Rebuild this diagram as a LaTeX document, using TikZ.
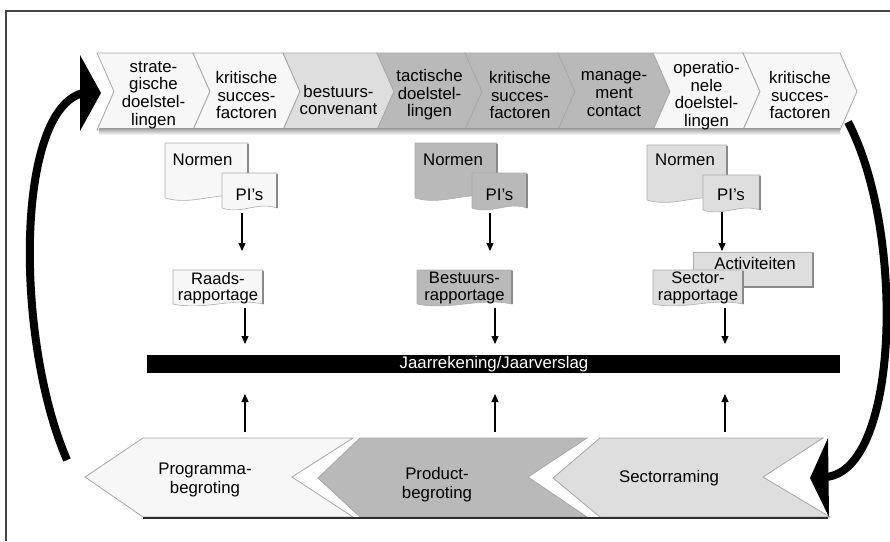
\documentclass[tikz,border=0pt]{standalone}
\usepackage{fontspec}
\setmainfont{Liberation Sans}
\usetikzlibrary{arrows.meta}
\definecolor{cwhite}{HTML}{F7F7F7}
\definecolor{clight}{HTML}{DEDEDE}
\definecolor{cmid}{HTML}{B9B9B9}
\definecolor{cedge}{HTML}{8A8A8A}
\newcommand\topchev[3]{\filldraw[chev, fill=#3] (#1,53) -- (#2,53) -- ({#2+17},91.5) -- (#2,130) -- (#1,130) -- ({#1+17},91.5) -- cycle;}
\newcommand\docpath[6]{%
  \filldraw[docbox, fill=#6] (#1,#2) -- (#3,#2) -- (#3,#4) .. controls ({#3-0.35*(#3-#1)},{#4-1.7*#5}) and ({#1+0.35*(#3-#1)},{#4+1.7*#5}) .. (#1,#4) -- cycle;
  \draw[cedge, line width=1.6pt] ({#3},{#2+1}) -- (#3,#4);}
\begin{document}
\begin{tikzpicture}[x=1pt,y=-1pt,
  lbl/.style={font=\fontsize{16.8}{17.6}\selectfont, align=center, inner sep=0pt},
  rlbl/.style={font=\fontsize{16.6}{16.4}\selectfont, align=center, inner sep=0pt},
  chev/.style={draw=cedge!75, line width=0.8pt},
  docbox/.style={draw=cedge!70, line width=0.6pt},
  arr/.style={-{Triangle[length=8pt,width=7pt]}, line width=1.1pt},
  cyclearrow/.style={line width=8pt},
  ]
\useasboundingbox (0,0) rectangle (890,541);
\fill[white] (0,0) rectangle (890,541);
\draw[line width=1.2pt, gray!55!black] (6,541) -- (6,11) -- (890,11);

% top band
\topchev{97}{193}{cwhite}
\topchev{193}{283}{cwhite}
\topchev{283}{377}{clight}
\topchev{377}{465}{cmid}
\topchev{465}{558}{cmid}
\topchev{558}{653}{cmid}
\topchev{653}{743}{cwhite}
\topchev{743}{840}{cwhite}
\shade[top color=gray!80, bottom color=white] (99,128) rectangle (840,135);

\node[lbl] (t1) at (153.5,95) {strate-\\gische\\doelstel-\\lingen};
\node[lbl] (t2) at (246.5,95) {kritische\\succes-\\factoren};
\node[lbl] (t3) at (338.5,100) {bestuurs-\\convenant};
\node[lbl] (t4) at (429.5,95) {tactische\\doelstel-\\lingen};
\node[lbl] (t5) at (520,95) {kritische\\succes-\\factoren};
\node[lbl] (t6) at (614,94) {manage-\\ment\\contact};
\node[lbl] (t7) at (706.5,95.5) {operatio-\\nele\\doelstel-\\lingen};
\node[lbl] (t8) at (800,95) {kritische\\succes-\\factoren};

% documents column 1
\docpath{165}{143}{248}{198}{5}{cwhite}
\node[lbl] (n1) at (202.5,160) {Normen};
\docpath{222}{173}{277}{208}{4}{cwhite}
\node[lbl] (p1) at (249.5,195) {PI's};
% column 2
\docpath{415}{143}{497}{198}{5}{cmid}
\node[lbl] (n2) at (453,160) {Normen};
\docpath{472}{173}{527}{208}{4}{cmid}
\node[lbl] (p2) at (499.5,195) {PI's};
% column 3
\docpath{647}{145}{727}{200}{5}{clight}
\node[lbl] (n3) at (685,160) {Normen};
\docpath{703}{175}{760}{210}{4}{clight}
\node[lbl] (p3) at (731,195) {PI's};

% rapportages
\docpath{173}{270}{263}{304}{4}{cwhite}
\node[rlbl] (r1) at (218,288) {Raads-\\rapportage};
\docpath{417}{270}{512}{304}{4}{cmid}
\node[rlbl] (r2) at (464.5,288) {Bestuurs-\\rapportage};
\filldraw[docbox, fill=clight] (693,252) rectangle (813,287);
\draw[cedge, line width=1.6pt] (813,253) -- (813,287) -- (694,287);
\node[lbl] (act) at (755,263) {Activiteiten};
\docpath{653}{270}{743}{304}{4}{clight}
\node[rlbl] (r3) at (698,288) {Sector-\\rapportage};

% bar
\fill[black] (147,355) rectangle (840,373);
\node[lbl, text=white] (bar) at (494,364) {Jaarrekening/Jaarverslag};

% bottom band
\filldraw[chev, fill=cwhite] (143,438) -- (353,438) -- (292,477) -- (353,517) -- (143,517) -- (85,477) -- cycle;
\filldraw[chev, fill=cmid] (360,438) -- (587,438) -- (528,477) -- (587,517) -- (360,517) -- (318,478) -- cycle;
\filldraw[chev, fill=clight] (600,438) -- (823,438) -- (763,477) -- (830,517) -- (600,517) -- (553,478) -- cycle;
\draw[gray!35!black, line width=2.5pt] (143,518) -- (828,518);
\node[lbl, font=\fontsize{16.8}{19}\selectfont] (b1) at (205,480) {Programma-\\begroting};
\node[lbl, font=\fontsize{16.8}{19}\selectfont] (b2) at (437,485) {Product-\\begroting};
\node[lbl] (b3) at (669,478) {Sectorraming};

% vertical arrows
\coordinate (a1s) at (242,213); \coordinate (a1e) at (242,251);
\coordinate (a2s) at (490,213); \coordinate (a2e) at (490,251);
\coordinate (a3s) at (722,212); \coordinate (a3e) at (722,251);
\coordinate (d1s) at (245,308); \coordinate (d1e) at (245,344);
\coordinate (d2s) at (495,308); \coordinate (d2e) at (495,344);
\coordinate (d3s) at (725,308); \coordinate (d3e) at (725,344);
\coordinate (u1s) at (245,432); \coordinate (u1e) at (245,394);
\coordinate (u2s) at (495,432); \coordinate (u2e) at (495,394);
\coordinate (u3s) at (725,432); \coordinate (u3e) at (725,394);
\foreach \s/\e in {a1s/a1e,a2s/a2e,a3s/a3e,d1s/d1e,d2s/d2e,d3s/d3e,u1s/u1e,u2s/u2e,u3s/u3e}
  \draw[arr] (\s) -- (\e);

% cycle arrows
\coordinate (ls) at (67,460); \coordinate (le) at (83,93);
\draw[cyclearrow] (ls) .. controls (15,340) and (15,110) .. (le);
\fill (80,55) -- (101,93) -- (80,131) -- cycle;
\coordinate (rs) at (848,122); \coordinate (re) at (826,477);
\draw[cyclearrow] (rs) .. controls (905,230) and (900,470) .. (re);
\fill (828,438) -- (810,478) -- (829,517) -- cycle;
\end{tikzpicture}
\end{document}
